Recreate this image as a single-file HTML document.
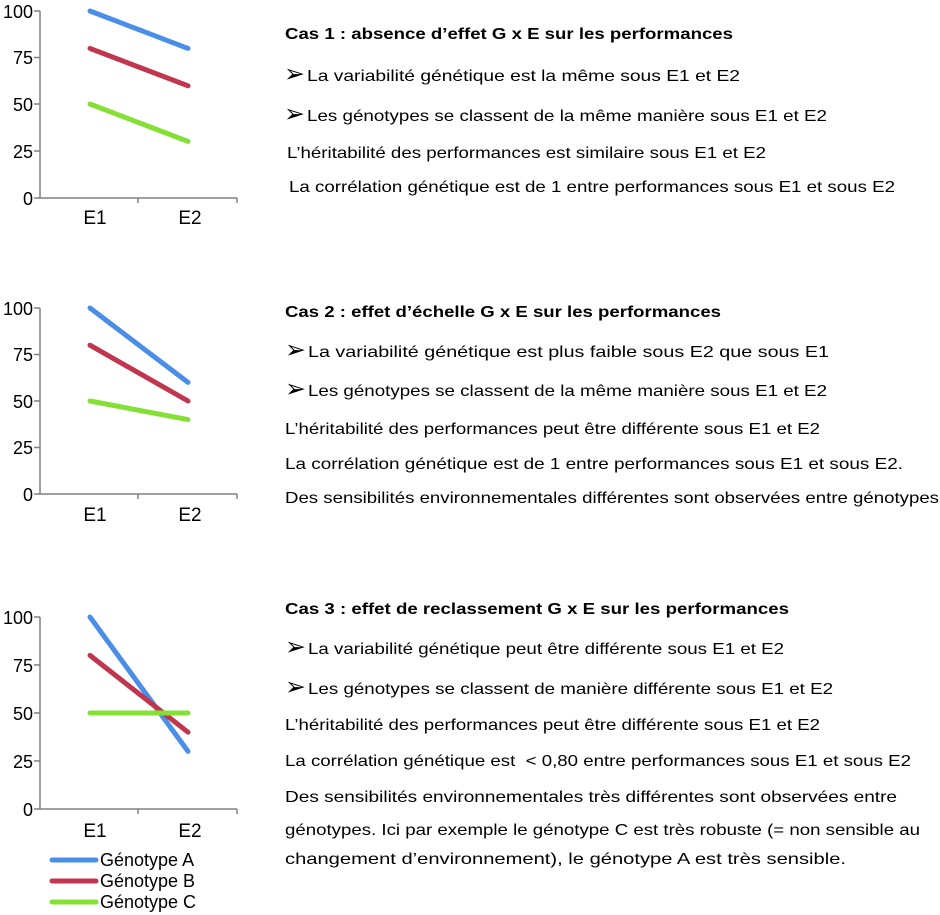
<!DOCTYPE html>
<html><head><meta charset="utf-8"><style>
html,body{margin:0;padding:0;background:#fff;}
svg{display:block;font-family:"Liberation Sans",Arial,sans-serif;}
</style></head><body>
<svg width="940" height="915" viewBox="0 0 940 915" xmlns="http://www.w3.org/2000/svg">
<g font-size="16" fill="#000">
<!-- Chart 1 -->
<g stroke="#808080" stroke-width="1.5" fill="none">
<path d="M40 11V198H237M40 11h-6M40 57.5h-6M40 104h-6M40 151h-6M40 198h-6M138 198v5M237 198v5"/>
</g>
<g font-size="18" text-anchor="end">
<text x="33" y="18">100</text>
<text x="33" y="64">75</text>
<text x="33" y="111">50</text>
<text x="33" y="158">25</text>
<text x="33" y="205">0</text>
</g>
<g font-size="19" text-anchor="middle">
<text x="95" y="224">E1</text>
<text x="190" y="224">E2</text>
</g>
<g stroke-width="5" stroke-linecap="round" fill="none">
<path d="M90 11L188 48.4" stroke="#4a8ee8"/>
<path d="M90 48.4L188 85.8" stroke="#c0364e"/>
<path d="M90 104L188 141.4" stroke="#84e034"/>
</g>
<!-- Chart 2 -->
<g stroke="#808080" stroke-width="1.5" fill="none">
<path d="M40 308V494H237M40 308h-6M40 354.5h-6M40 401h-6M40 447.5h-6M40 494h-6M138 494v5M237 494v5"/>
</g>
<g font-size="18" text-anchor="end">
<text x="33" y="315">100</text>
<text x="33" y="361">75</text>
<text x="33" y="408">50</text>
<text x="33" y="454">25</text>
<text x="33" y="501">0</text>
</g>
<g font-size="19" text-anchor="middle">
<text x="95" y="521">E1</text>
<text x="190" y="521">E2</text>
</g>
<g stroke-width="5" stroke-linecap="round" fill="none">
<path d="M90 308L188 382.4" stroke="#4a8ee8"/>
<path d="M90 345.2L188 401" stroke="#c0364e"/>
<path d="M90 401L188 419.6" stroke="#84e034"/>
</g>
<!-- Chart 3 -->
<g stroke="#808080" stroke-width="1.5" fill="none">
<path d="M40 617V809H237M40 617h-6M40 665h-6M40 713h-6M40 761h-6M40 809h-6M138 809v5M237 809v5"/>
</g>
<g font-size="18" text-anchor="end">
<text x="33" y="624">100</text>
<text x="33" y="672">75</text>
<text x="33" y="720">50</text>
<text x="33" y="768">25</text>
<text x="33" y="816">0</text>
</g>
<g font-size="19" text-anchor="middle">
<text x="95" y="837">E1</text>
<text x="190" y="837">E2</text>
</g>
<g stroke-width="5" stroke-linecap="round" fill="none">
<path d="M90 617L188 751.4" stroke="#4a8ee8"/>
<path d="M90 655.4L188 732.2" stroke="#c0364e"/>
<path d="M90 713L188 713" stroke="#84e034"/>
<path d="M52 860H96" stroke="#4a8ee8"/>
<path d="M52 881H96" stroke="#c0364e"/>
<path d="M52 902H96" stroke="#84e034"/>
</g>
<g font-size="18">
<text x="100" y="866">Génotype A</text>
<text x="100" y="887">Génotype B</text>
<text x="100" y="908">Génotype C</text>
</g>

<!-- Text block 1 -->
<text x="285" y="39" font-weight="bold" textLength="448" lengthAdjust="spacingAndGlyphs">Cas 1 : absence d’effet G x E sur les performances</text>
<text x="284" y="82" font-size="25">➢</text>
<text x="307" y="81" textLength="433" lengthAdjust="spacingAndGlyphs">La variabilité génétique est la même sous E1 et E2</text>
<text x="284" y="122" font-size="25">➢</text>
<text x="307" y="121" textLength="520" lengthAdjust="spacingAndGlyphs">Les génotypes se classent de la même manière sous E1 et E2</text>
<text x="287" y="158" textLength="479" lengthAdjust="spacingAndGlyphs">L’héritabilité des performances est similaire sous E1 et E2</text>
<text x="289" y="192" textLength="606" lengthAdjust="spacingAndGlyphs">La corrélation génétique est de 1 entre performances sous E1 et sous E2</text>

<!-- Text block 2 -->
<text x="285" y="317" font-weight="bold" textLength="436" lengthAdjust="spacingAndGlyphs">Cas 2 : effet d’échelle G x E sur les performances</text>
<text x="285" y="358" font-size="25">➢</text>
<text x="308" y="357" textLength="521" lengthAdjust="spacingAndGlyphs">La variabilité génétique est plus faible sous E2 que sous E1</text>
<text x="285" y="397" font-size="25">➢</text>
<text x="308" y="396" textLength="519" lengthAdjust="spacingAndGlyphs">Les génotypes se classent de la même manière sous E1 et E2</text>
<text x="285" y="434" textLength="535" lengthAdjust="spacingAndGlyphs">L’héritabilité des performances peut être différente sous E1 et E2</text>
<text x="285" y="469" textLength="618" lengthAdjust="spacingAndGlyphs">La corrélation génétique est de 1 entre performances sous E1 et sous E2.</text>
<text x="285" y="503" textLength="654" lengthAdjust="spacingAndGlyphs">Des sensibilités environnementales différentes sont observées entre génotypes</text>

<!-- Text block 3 -->
<text x="285" y="614" font-weight="bold" textLength="504" lengthAdjust="spacingAndGlyphs">Cas 3 : effet de reclassement G x E sur les performances</text>
<text x="285" y="655" font-size="25">➢</text>
<text x="308" y="654" textLength="476" lengthAdjust="spacingAndGlyphs">La variabilité génétique peut être différente sous E1 et E2</text>
<text x="285" y="695" font-size="25">➢</text>
<text x="308" y="694" textLength="525" lengthAdjust="spacingAndGlyphs">Les génotypes se classent de manière différente sous E1 et E2</text>
<text x="285" y="730" textLength="535" lengthAdjust="spacingAndGlyphs">L’héritabilité des performances peut être différente sous E1 et E2</text>
<text x="285" y="766" textLength="626" lengthAdjust="spacingAndGlyphs" xml:space="preserve">La corrélation génétique est  &lt; 0,80 entre performances sous E1 et sous E2</text>
<text x="285" y="802" textLength="612" lengthAdjust="spacingAndGlyphs">Des sensibilités environnementales très différentes sont observées entre</text>
<text x="285" y="835" textLength="635" lengthAdjust="spacingAndGlyphs">génotypes. Ici par exemple le génotype C est très robuste (= non sensible au</text>
<text x="285" y="864" textLength="561" lengthAdjust="spacingAndGlyphs">changement d’environnement), le génotype A est très sensible.</text>
</g>
</svg>
</body></html>
